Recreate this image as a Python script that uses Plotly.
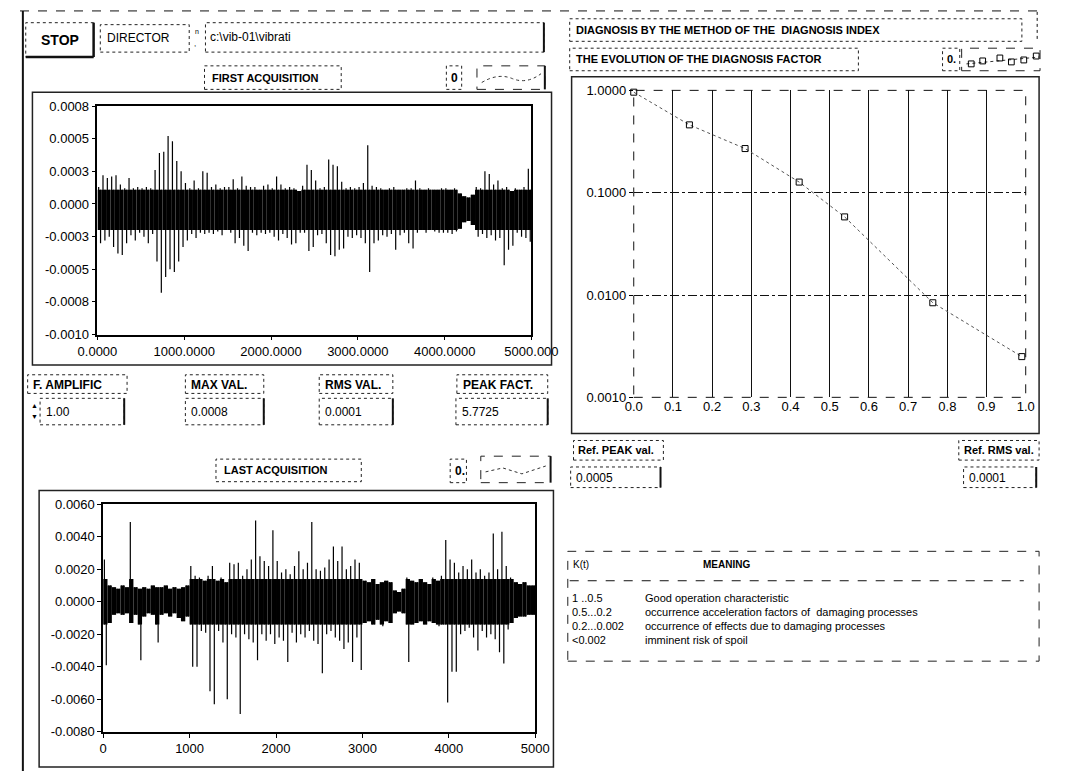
import plotly.graph_objects as go

W, H = 1068, 779
FONT = "Liberation Sans"

# ---------------- data ----------------
# first acquisition: per-50-sample envelope (units 1e-4)
top_bin_start = list(range(0, 5000, 50))
top_hi_e4 = [1.3, 2.2, 2.0, 2.1, 2.2, 1.5, 1.2, 2.0, 1.2, 1.3,
             1.2, 1.3, 1.2, 2.6, 3.9, 4.0, 5.2, 4.8, 3.3, 2.5,
             1.6, 1.2, 1.8, 1.2, 2.5, 2.4, 1.3, 1.5, 1.2, 1.3,
             1.3, 1.9, 1.2, 2.1, 1.4, 1.3, 1.3, 1.1, 1.4, 1.5,
             1.2, 2.1, 1.5, 1.2, 1.3, 1.2, 1.0, 1.4, 3.0, 2.6,
             1.8, 1.2, 1.3, 3.4, 3.0, 2.9, 1.7, 1.2, 1.3, 1.2,
             1.3, 1.6, 4.5, 1.4, 1.3, 1.2, 1.1, 1.2, 1.3, 1.1,
             1.1, 1.2, 1.2, 1.8, 1.2, 1.1, 1.2, 1.1, 1.1, 1.2,
             1.2, 1.1, 1.2, 0.8, 0.6, 0.5, 0.7, 1.3, 1.2, 2.5,
             2.3, 1.5, 1.8, 1.2, 1.3, 1.0, 1.2, 1.1, 1.3, 2.7]
top_lo_e4 = [-3.0, -2.8, -2.5, -3.3, -3.8, -3.9, -3.0, -2.4, -2.8, -2.2,
             -2.5, -3.0, -2.3, -4.4, -6.8, -5.6, -5.0, -5.2, -4.4, -3.3,
             -2.8, -2.3, -2.6, -2.2, -2.3, -2.2, -2.3, -2.1, -2.4, -2.0,
             -2.2, -3.0, -2.6, -3.2, -3.6, -2.2, -2.4, -2.2, -2.3, -2.2,
             -2.5, -2.8, -2.3, -2.6, -3.1, -3.0, -2.2, -2.2, -3.6, -3.3,
             -2.4, -2.3, -3.0, -3.9, -4.0, -3.5, -3.4, -2.5, -2.6, -2.4,
             -2.6, -3.0, -5.2, -3.0, -2.8, -2.4, -2.5, -2.3, -3.5, -2.4,
             -2.2, -3.0, -3.4, -2.2, -2.0, -2.2, -2.0, -2.1, -2.2, -2.2,
             -2.2, -2.3, -2.1, -1.9, -1.4, -1.3, -1.6, -2.5, -2.3, -2.6,
             -2.4, -2.8, -2.6, -4.7, -3.5, -3.2, -2.2, -2.5, -2.6, -2.9]
# dense core of the first trace (units 1e-4)
top_core_hi_e4 = 1.1
top_core_lo_e4 = -2.0

# last acquisition: per-50-sample envelope (units 1e-3)
bot_bin_start = list(range(0, 5000, 50))
bot_hi_e3 = [2.6, 1.0, 0.9, 0.8, 1.0, 0.9, 4.9, 0.9, 0.8, 0.9,
             0.8, 1.0, 0.9, 0.9, 1.0, 0.8, 0.9, 0.8, 0.9, 1.0,
             2.2, 1.6, 1.5, 1.3, 1.6, 2.2, 1.3, 1.5, 1.2, 2.4,
             2.3, 2.4, 1.6, 2.0, 2.6, 5.0, 2.8, 2.5, 2.2, 4.4,
             2.5, 1.8, 2.0, 1.7, 2.2, 3.1, 2.0, 2.4, 4.9, 2.0,
             1.9, 2.1, 2.6, 3.4, 2.5, 3.4, 2.0, 2.2, 2.6, 2.4,
             1.3, 1.2, 1.4, 1.1, 1.2, 1.3, 1.2, 0.7, 0.6, 0.8,
             1.5, 1.3, 1.2, 1.4, 1.2, 1.1, 1.5, 1.3, 1.6, 3.8,
             2.6, 2.4, 1.8, 2.2, 2.0, 2.6, 1.8, 2.0, 1.6, 1.8,
             4.2, 2.0, 4.3, 2.2, 1.5, 1.2, 1.1, 1.2, 1.0, 1.0]
bot_lo_e3 = [-3.9, -1.3, -0.8, -0.7, -0.8, -0.7, -1.3, -0.8, -3.6, -0.9,
             -0.7, -0.8, -2.5, -0.8, -0.7, -0.9, -0.7, -1.0, -1.2, -0.9,
             -4.0, -4.0, -1.8, -1.9, -5.5, -6.3, -1.8, -2.5, -6.0, -2.0,
             -2.2, -6.9, -2.0, -2.3, -2.5, -3.6, -2.0, -2.4, -2.0, -2.6,
             -2.2, -2.4, -3.7, -1.9, -2.5, -2.0, -2.2, -1.8, -2.4, -2.6,
             -4.4, -2.0, -1.8, -2.2, -2.4, -2.9, -2.5, -3.7, -2.2, -4.2,
             -1.3, -1.2, -1.4, -1.1, -1.5, -1.2, -1.3, -0.7, -0.6, -0.7,
             -3.7, -1.4, -1.3, -1.2, -1.4, -1.2, -1.3, -1.5, -1.4, -6.2,
             -4.3, -4.3, -2.0, -1.8, -1.6, -2.2, -3.0, -1.8, -2.2, -2.0,
             -2.3, -3.1, -3.8, -1.7, -1.3, -1.0, -0.9, -0.9, -0.8, -0.8]
# dense core of the second trace (units 1e-3)
bot_core_hi_e3 = 1.4
bot_core_lo_e3 = -1.4

# diagnosis factor K(t)
diag_x = [0.0, 0.142, 0.284, 0.422, 0.538, 0.763, 0.99]
diag_k = [0.96, 0.46, 0.27, 0.127, 0.058, 0.0084, 0.0025]

# tick labels
top_y_ticks = [0.00075, 0.0005, 0.00025, 0.0, -0.00025, -0.0005, -0.00075, -0.001]
top_y_labels = ["0.0008", "0.0005", "0.0003", "0.0000", "-0.0003", "-0.0005", "-0.0008", "-0.0010"]
top_x_ticks = [0, 1000, 2000, 3000, 4000, 5000]
top_x_labels = ["0.0000", "1000.0000", "2000.0000", "3000.0000", "4000.0000", "5000.000"]
bot_y_ticks = [0.006, 0.004, 0.002, 0.0, -0.002, -0.004, -0.006, -0.008]
bot_y_labels = ["0.0060", "0.0040", "0.0020", "0.0000", "-0.0020", "-0.0040", "-0.0060", "-0.0080"]
bot_x_ticks = [0, 1000, 2000, 3000, 4000, 5000]
bot_x_labels = ["0", "1000", "2000", "3000", "4000", "5000"]
diag_x_ticks = [0.0, 0.1, 0.2, 0.3, 0.4, 0.5, 0.6, 0.7, 0.8, 0.9, 1.0]
diag_x_labels = ["0.0", "0.1", "0.2", "0.3", "0.4", "0.5", "0.6", "0.7", "0.8", "0.9", "1.0"]
diag_y_ticks = [1.0, 0.1, 0.01, 0.001]
diag_y_labels = ["1.0000", "0.1000", "0.0100", "0.0010"]

# readouts / table
file_path = "c:\\vib-01\\vibrati"
amp_factor = "1.00"
max_val = "0.0008"
rms_val = "0.0001"
peak_fact = "5.7725"
ref_peak = "0.0005"
ref_rms = "0.0001"
kt_ranges = ["1 ..0.5", "0.5...0.2", "0.2...0.002", "<0.002"]
kt_meaning = ["Good operation characteristic",
              "occurrence acceleration factors of  damaging processes",
              "occurrence of effects due to damaging processes",
              "imminent risk of spoil"]


# ---------------- helpers ----------------
def px(x):
    return x / W


def py(y):
    return 1 - y / H


shapes, anns = [], []


def R(x0, y0, x1, y1, dash="dot", w=1, color="#222"):
    shapes.append(dict(type="rect", xref="paper", yref="paper", x0=px(x0), x1=px(x1),
                       y0=py(y1), y1=py(y0), line=dict(color=color, width=w, dash=dash),
                       fillcolor="rgba(0,0,0,0)", layer="above"))


def L(x0, y0, x1, y1, dash="solid", w=1, color="#111"):
    shapes.append(dict(type="line", xref="paper", yref="paper", x0=px(x0), x1=px(x1),
                       y0=py(y0), y1=py(y1), line=dict(color=color, width=w, dash=dash),
                       layer="above"))


def T(x, y, s, size=11, bold=False, xanchor="left"):
    anns.append(dict(x=px(x), y=py(y), xref="paper", yref="paper",
                     text=("<b>%s</b>" % s) if bold else s, showarrow=False,
                     xanchor=xanchor, yanchor="middle",
                     font=dict(size=size, color="black", family=FONT)))


def field(x0, y0, x1, y1):
    R(x0, y0, x1, y1, dash="dot", w=1)
    L(x1, y0, x1, y1, w=2)


def add_wave(fig, starts, hi, lo, core_hi, core_lo, sc, xa, ya):
    # dense core band
    c_hi = [min(h, core_hi) * sc for h in hi]
    c_lo = [max(l, core_lo) * sc for l in lo]
    fig.add_trace(go.Bar(x=[s + 25 for s in starts], y=[a - b for a, b in zip(c_hi, c_lo)],
                         base=c_lo, width=50, marker=dict(color="black", line=dict(width=0)),
                         xaxis=xa, yaxis=ya, showlegend=False, hoverinfo="skip"))
    # excursions: separate thin vertical strokes up to the envelope values
    xs, ys = [], []
    for s, h, l, ch, cl in zip(starts, hi, lo, c_hi, c_lo):
        xs += [s + 14, s + 14, None, s + 36, s + 36, None]
        ys += [cl, h * sc, None, l * sc, ch, None]
    fig.add_trace(go.Scatter(x=xs, y=ys, mode="lines", line=dict(color="black", width=1.2),
                             connectgaps=False, xaxis=xa, yaxis=ya, showlegend=False,
                             hoverinfo="skip"))


# ---------------- traces ----------------
fig = go.Figure()
add_wave(fig, top_bin_start, top_hi_e4, top_lo_e4, top_core_hi_e4, top_core_lo_e4, 1e-4, "x", "y")
add_wave(fig, bot_bin_start, bot_hi_e3, bot_lo_e3, bot_core_hi_e3, bot_core_lo_e3, 1e-3, "x2", "y2")

fig.add_trace(go.Scatter(x=diag_x, y=diag_k, mode="lines+markers",
                         line=dict(color="#555", width=1, dash="dot"),
                         marker=dict(symbol="square-open", size=6, color="black", line=dict(width=1)),
                         xaxis="x3", yaxis="y3", showlegend=False, cliponaxis=False))

# ---------------- axes ----------------
tickfont = dict(size=13, color="black", family=FONT)
common = dict(showgrid=False, zeroline=False, showline=True, linecolor="black", linewidth=1.5,
              mirror=True, ticks="outside", ticklen=4, tickcolor="black", tickfont=tickfont)

layout = dict(
    width=W, height=H, autosize=False, margin=dict(l=0, r=0, t=0, b=0),
    paper_bgcolor="white", plot_bgcolor="white", showlegend=False, barmode="overlay",
    xaxis=dict(domain=[px(81), px(535)], range=[0, 5000], anchor="y",
               tickvals=top_x_ticks, ticktext=top_x_labels, **common),
    yaxis=dict(domain=[py(334), py(101)], range=[-0.001, 0.00075], anchor="x",
               tickvals=top_y_ticks, ticktext=top_y_labels, **common),
    xaxis2=dict(domain=[px(87), px(539)], range=[0, 5000], anchor="y2",
                tickvals=bot_x_ticks, ticktext=bot_x_labels, **common),
    yaxis2=dict(domain=[py(739), py(507)], range=[-0.008, 0.006], anchor="x2",
                tickvals=bot_y_ticks, ticktext=bot_y_labels, **common),
    xaxis3=dict(domain=[px(642), px(1052)], range=[0, 1], anchor="y3",
                tickvals=diag_x_ticks, ticktext=diag_x_labels, showgrid=True,
                gridcolor="#111", gridwidth=1.3, zeroline=False, showline=False,
                ticks="", tickfont=tickfont),
    yaxis3=dict(domain=[py(398), py(85)], type="log", range=[-3, 0], anchor="x3",
                tickvals=diag_y_ticks, ticktext=diag_y_labels, showgrid=True,
                gridcolor="#111", gridwidth=1, griddash="dashdot", zeroline=False,
                showline=False, ticks="outside", ticklen=4, tickcolor="black",
                tickfont=tickfont),
)

# right plot dashed border
shapes.append(dict(type="rect", xref="x3 domain", yref="y3 domain", x0=0, x1=1, y0=0, y1=1,
                   line=dict(color="#111", width=1, dash="dash"), layer="above"))

# ---------------- panel decorations ----------------
L(0, 4, 1068, 4, dash="dash", w=1)
L(3, 4, 3, 779, w=2)

# header left
R(6, 16, 77, 51, dash="dot")
L(77, 16, 77, 51, w=2.5)
L(6, 51, 77, 51, w=2.5)
T(42, 34, "STOP", size=14, bold=True, xanchor="center")
R(84, 18, 177, 46)
T(89, 32, "DIRECTOR", size=12)
T(181, 25, "n", size=7)
T(180, 37, ",", size=8)
R(194, 16, 548, 46)
L(548, 16, 548, 46, w=2)
T(197, 31, file_path, size=12)

R(193, 60, 336, 84)
T(199, 72, "FIRST ACQUISITION", size=11, bold=True)
R(446, 60, 462, 84)
T(449, 72, "0", size=12, bold=True)
R(478, 60, 549, 84, dash="dash")
L(549, 60, 549, 84, w=2)
shapes.append(dict(type="path", xref="paper", yref="paper",
                   path="M %f,%f Q %f,%f %f,%f T %f,%f" % (px(483), py(77), px(500), py(67),
                                                          px(515), py(73), px(545), py(68)),
                   line=dict(color="#333", width=1, dash="dot"), layer="above"))

# top plot frame
R(13, 87, 556, 365, dash="solid", w=1.5)

# readouts row
R(8, 375, 112, 394)
T(12, 385, "F. AMPLIFIC", size=12, bold=True)
T(15, 406, "▲", size=7, xanchor="center")
T(15, 418, "▼", size=7, xanchor="center")
field(21, 399, 109, 426)
T(25, 413, amp_factor, size=12)

R(173, 375, 255, 394)
T(177, 385, "MAX VAL.", size=12, bold=True)
field(173, 399, 255, 426)
T(177, 413, max_val, size=12)

R(313, 375, 390, 394)
T(317, 385, "RMS VAL.", size=12, bold=True)
field(313, 399, 390, 426)
T(317, 413, rms_val, size=12)

R(457, 375, 552, 394)
T(461, 385, "PEAK FACT.", size=12, bold=True)
field(456, 399, 552, 426)
T(460, 413, peak_fact, size=12)

R(205, 461, 357, 484)
T(211, 472, "LAST ACQUISITION", size=11, bold=True)
R(450, 461, 467, 485)
T(453, 473, "0.", size=12, bold=True)
R(482, 458, 555, 485, dash="dash")
L(555, 458, 555, 485, w=2)
shapes.append(dict(type="path", xref="paper", yref="paper",
                   path="M %f,%f L %f,%f L %f,%f L %f,%f" % (px(487), py(474), px(505), py(470),
                                                             px(525), py(476), px(550), py(468)),
                   line=dict(color="#333", width=1, dash="dot"), layer="above"))

# bottom plot frame
R(20, 493, 558, 775, dash="solid", w=1.5)

# header right
R(575, 12, 1048, 35)
L(1064, 5, 1064, 35, dash="dot", w=1)
T(580, 23, "DIAGNOSIS BY THE METHOD OF THE  DIAGNOSIS INDEX", size=11, bold=True)
R(575, 42, 877, 65)
T(579, 53, "THE EVOLUTION OF THE DIAGNOSIS FACTOR", size=11, bold=True)
R(965, 42, 983, 65)
T(968, 53, "0.", size=11, bold=True)
R(985, 42, 1067, 65, dash="dash")
L(990, 58, 1066, 51, dash="dot", w=1, color="#333")
for sx, sy in [(995, 58), (1007, 55), (1025, 52), (1037, 56), (1050, 54), (1063, 50)]:
    shapes.append(dict(type="rect", xref="paper", yref="paper", x0=px(sx - 3), x1=px(sx + 3),
                       y0=py(sy + 3), y1=py(sy - 3), line=dict(color="black", width=1),
                       layer="above"))

# right plot frame
R(577, 71, 1066, 435, dash="solid", w=1.5)

R(579, 442, 673, 462)
T(582, 452, "Ref. PEAK val.", size=11, bold=True)
field(576, 469, 670, 490)
T(580, 480, ref_peak, size=12)

R(982, 442, 1066, 462)
T(985, 452, "Ref. RMS val.", size=11, bold=True)
field(987, 469, 1063, 490)
T(991, 480, ref_rms, size=12)

# meaning table
R(573, 555, 1066, 667, dash="dash")
T(576, 568, "K(t)", size=10)
T(712, 568, "MEANING", size=10, bold=True)
L(575, 585, 1050, 585, dash="dash", w=1)
for i, (k, m) in enumerate(zip(kt_ranges, kt_meaning)):
    T(575, 603 + i * 14.3, k, size=11)
    T(652, 603 + i * 14.3, m, size=11)

layout["shapes"] = shapes
layout["annotations"] = anns
fig.update_layout(**layout)
fig.write_html("out.html")
